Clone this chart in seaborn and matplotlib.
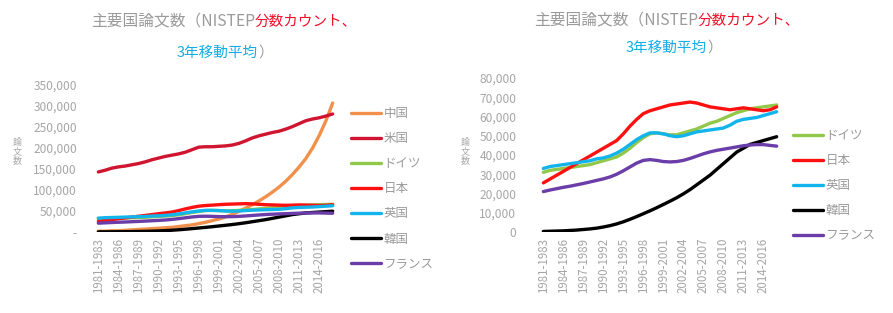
"""
主要国論文数 (NISTEP fractional count, 3-year moving average)
"""

import numpy as np
import pandas as pd
import seaborn as sns
import matplotlib.pyplot as plt

# 3-year windows, one point per year (1981-1983 ... 2016-2018)
periods = [f"{y}-{y + 2}" for y in range(1981, 2017)]
tick_labels = periods[::3]

# values in thousands of papers
china = [2, 2, 3, 3, 4, 5, 6, 7, 8, 9, 10, 11, 13, 15, 17, 20, 23, 27, 31, 36,
         42, 49, 57, 65, 74, 84, 95, 107, 121, 137, 155, 175, 200, 230, 265, 307]
usa = [143, 147, 152, 155, 157, 160, 163, 167, 172, 176, 180, 183, 186, 190, 196, 202, 203, 203,
       204, 205, 207, 211, 217, 224, 229, 233, 237, 240, 245, 251, 258, 265, 269, 272, 276, 281]
germany = [31, 32, 32.5, 33, 33.5, 34, 34.5, 35, 36, 37, 38, 39, 41, 43.5, 46.5, 49, 51, 51.5,
           51, 50.5, 50.5, 51.5, 52.5, 53.5, 55, 56.5, 57.5, 59, 60.5, 62, 63, 64, 64.5, 65, 65.5, 66]
japan = [25.5, 27.5, 29.5, 31.5, 33.5, 35.5, 37.5, 39.5, 41.5, 43.5, 45.5, 47.5, 51, 55, 58.5, 61.5,
         63, 64, 65, 66, 66.5, 67, 67.5, 67, 66, 65, 64.5, 64, 63.5, 64, 64.5, 64, 63.5, 63, 63.5, 65]
uk = [33, 34, 34.5, 35, 35.5, 36, 36.5, 37, 38, 38.5, 39.5, 41, 43, 45.5, 48, 50, 51.5, 51.5,
      51, 50, 49.5, 50, 51, 52, 52.5, 53, 53.5, 54, 55.5, 57.5, 58.5, 59, 59.5, 60.5, 61.5, 62.5]
korea = [0.3, 0.4, 0.5, 0.6, 0.8, 1.0, 1.3, 1.6, 2.0, 2.6, 3.3, 4.2, 5.3, 6.6, 8.0, 9.5, 11, 12.6,
         14.3, 16, 17.8, 19.8, 22, 24.5, 27, 29.5, 32.5, 35.5, 38.5, 41.5, 43.5, 45.5, 46.5, 47.5, 48.5, 49.5]
france = [21, 21.8, 22.5, 23.2, 23.8, 24.5, 25.2, 26, 26.8, 27.6, 28.6, 30, 31.8, 33.8, 35.8, 37.2,
          37.6, 37.2, 36.6, 36.4, 36.6, 37.2, 38.2, 39.4, 40.6, 41.6, 42.4, 43, 43.6, 44.2, 44.8,
          45.2, 45.4, 45.4, 45, 44.6]

series = {
    "中国": china,
    "米国": usa,
    "ドイツ": germany,
    "日本": japan,
    "英国": uk,
    "韓国": korea,
    "フランス": france,
}
left_order = ["中国", "米国", "ドイツ", "日本", "英国", "韓国", "フランス"]
right_order = ["ドイツ", "日本", "英国", "韓国", "フランス"]
palette = {
    "中国": "#F0904A",
    "米国": "#D01530",
    "ドイツ": "#92C84A",
    "日本": "#FF1010",
    "英国": "#12B4EC",
    "韓国": "#000000",
    "フランス": "#6A3DA8",
}

df = pd.DataFrame([
    {"period": i, "country": c, "papers": v * 1000}
    for c, vals in series.items()
    for i, v in enumerate(vals)
])

sns.set_theme(style="white")
plt.rcParams["font.family"] = ["Noto Sans CJK JP", "DejaVu Sans"]

W, H = 893, 313
fig = plt.figure(figsize=(W / 100, H / 100), dpi=100)


def px_box(x0, x1, y_top, y_bottom):
    return [x0 / W, 1 - y_bottom / H, (x1 - x0) / W, (y_bottom - y_top) / H]


GRAY = "#9a9a9a"
TICK = "#a6a6a6"


def draw_panel(box, order, ymax, ystep, zero_label, legend_xy, ylabel_xy, ypad):
    ax = fig.add_axes(box)
    sns.lineplot(data=df[df["country"].isin(order)], x="period", y="papers",
                 hue="country", hue_order=order, palette=palette,
                 linewidth=2.4, ax=ax)
    ax.set_xlim(-0.5, len(periods) - 0.5)
    ax.set_ylim(0, ymax)
    ax.set_xticks(range(0, len(periods), 3))
    ax.set_xticklabels(tick_labels, rotation=90, fontsize=8.3, color=TICK)
    yt = np.arange(0, ymax + 1, ystep)
    ax.set_yticks(yt)
    ax.set_yticklabels([zero_label] + [f"{int(v):,}" for v in yt[1:]], fontsize=8.6, color=TICK)
    ax.tick_params(axis="y", length=0, pad=ypad)
    ax.tick_params(axis="x", length=0, pad=4)
    ax.set_xlabel("")
    ax.set_ylabel("")
    for s in ax.spines.values():
        s.set_visible(False)

    handles, labels = ax.get_legend_handles_labels()
    ax.legend(handles, labels, loc="upper left",
              bbox_to_anchor=(legend_xy[0] / W, 1 - legend_xy[1] / H),
              bbox_transform=fig.transFigure, frameon=False, fontsize=9,
              labelcolor=GRAY, handlelength=2.4, handletextpad=0.2,
              labelspacing=0.97, borderpad=0, borderaxespad=0)

    fig.text(ylabel_xy[0] / W, 1 - ylabel_xy[1] / H, "論\n文\n数", fontsize=6.5,
             color="#a8a8a8", ha="center", va="center", linespacing=1.0)
    return ax


def title(x_split, y1, x2_split, y2):
    kw = dict(va="center")
    fig.text(x_split / W, 1 - y1 / H, "主要国論文数（NISTEP", color=GRAY, ha="right",
             fontsize=11.3, **kw)
    fig.text(x_split / W, 1 - y1 / H, "分数カウント、", color="#F0102A", ha="left",
             fontsize=10.5, **kw)
    fig.text(x2_split / W, 1 - y2 / H, "3年移動平均", color="#12AEE8", ha="right",
             fontsize=10.5, **kw)
    fig.text(x2_split / W, 1 - y2 / H, "）", color=GRAY, ha="left", fontsize=10.5, **kw)


draw_panel(px_box(95, 336, 85, 232), left_order, 350000, 50000, "-",
           (351, 107), (17, 152), 13)
draw_panel(px_box(540, 780, 78, 232), right_order, 80000, 10000, "0",
           (793, 129), (465, 152), 17)

title(255, 22, 258, 53)
title(698, 21, 707, 48)

fig.savefig("out.png", dpi=100, facecolor="white")
